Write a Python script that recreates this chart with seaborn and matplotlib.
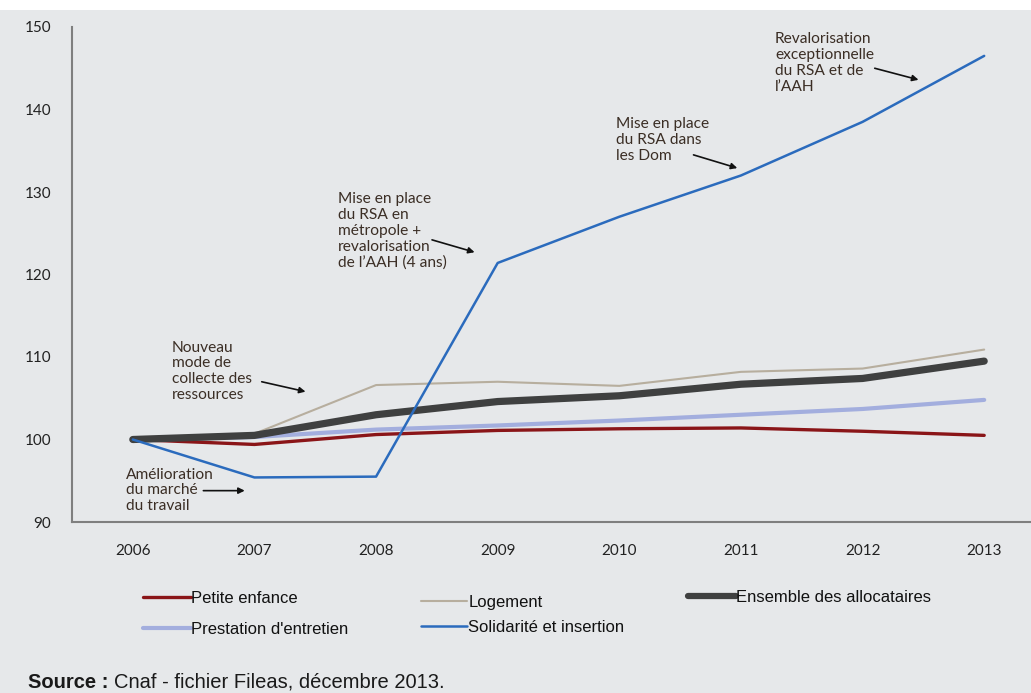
import matplotlib
matplotlib.use("Agg")
import matplotlib.pyplot as plt
import seaborn as sns
import pandas as pd
from matplotlib.lines import Line2D
from matplotlib.patches import Rectangle

years = [2006, 2007, 2008, 2009, 2010, 2011, 2012, 2013]
petite_enfance = [100, 99.4, 100.6, 101.1, 101.3, 101.4, 101.0, 100.5]
prestation_entretien = [100, 100.3, 101.2, 101.7, 102.3, 103.0, 103.7, 104.8]
logement = [100, 100.7, 106.6, 107.0, 106.5, 108.2, 108.6, 110.9]
ensemble = [100, 100.5, 103.0, 104.6, 105.3, 106.7, 107.4, 109.5]
solidarite = [100, 95.4, 95.5, 121.4, 127.0, 132.0, 138.5, 146.5]

series_names = ["Prestation d'entretien", "Petite enfance", "Logement",
                "Ensemble des allocataires", "Solidarité et insertion"]
series_values = [prestation_entretien, petite_enfance, logement, ensemble, solidarite]
colors = {"Petite enfance": "#8a1518", "Prestation d'entretien": "#a3aede",
          "Logement": "#b7ae9e", "Ensemble des allocataires": "#3f4040",
          "Solidarité et insertion": "#2b6bbd"}
widths = {"Petite enfance": 2.4, "Prestation d'entretien": 3.0, "Logement": 1.5,
          "Ensemble des allocataires": 5.2, "Solidarité et insertion": 1.8}

yticks = [90, 100, 110, 120, 130, 140, 150]

bg = "#e6e8ea"
sns.set_theme(style="white")
plt.rcParams['font.family'] = ['Lato', 'DejaVu Sans']

fig = plt.figure(figsize=(10.31, 6.93), dpi=100, facecolor=bg)
W, H = 1031, 693
ax = fig.add_axes([72 / W, 1 - 522 / H, (1045 - 72) / W, (522 - 27) / H])
ax.set_facecolor(bg)

for name, vals in zip(series_names, series_values):
    df = pd.DataFrame({"year": years, "value": vals})
    sns.lineplot(data=df, x="year", y="value", ax=ax, color=colors[name],
                 linewidth=widths[name], solid_capstyle="round", legend=False)

ax.set_xlim(2005.5, 2013.5)
ax.set_ylim(90, 150)
ax.set_xticks(years)
ax.set_xticklabels([str(y) for y in years])
ax.set_yticks(yticks)
ax.set_xlabel("")
ax.set_ylabel("")
ax.tick_params(axis="both", length=0, labelsize=11, colors="#222222")
ax.tick_params(axis="x", pad=16)
ax.tick_params(axis="y", pad=15)
for s in ["top", "right"]:
    ax.spines[s].set_visible(False)
for s in ["left", "bottom"]:
    ax.spines[s].set_color("#7f7f7f")
    ax.spines[s].set_linewidth(1.5)

txtcol = "#3b2e25"
ann = [
    ("Nouveau\nmode de\ncollecte des\nressources", (2006.32, 112.0), (2007.06, 107.0), (2007.42, 105.8)),
    ("Amélioration\ndu marché\ndu travail", (2005.94, 96.6), (2006.58, 93.8), (2006.92, 93.8)),
    ("Mise en place\ndu RSA en\nmétropole +\nrevalorisation\nde l\u2019AAH (4 ans)", (2007.69, 130.0), (2008.46, 124.2), (2008.81, 122.7)),
    ("Mise en place\ndu RSA dans\nles Dom", (2009.97, 139.1), (2010.61, 134.5), (2010.97, 132.9)),
    ("Revalorisation\nexceptionnelle\ndu RSA et de\nl\u2019AAH", (2011.28, 149.4), (2012.10, 145.0), (2012.46, 143.6)),
]
for text, tpos, a0, a1 in ann:
    ax.text(tpos[0], tpos[1], text, ha="left", va="top", fontsize=11.2,
            color=txtcol, linespacing=1.17)
    ax.annotate("", xy=a1, xytext=a0,
                arrowprops=dict(arrowstyle="-|>", color="#111111", lw=1.2,
                                mutation_scale=9, shrinkA=0, shrinkB=0))

leg_font = {"family": "Liberation Sans", "size": 12}

def mk(name):
    return Line2D([0], [0], color=colors[name], linewidth=widths[name] if widths[name] < 4 else 4.5,
                  solid_capstyle="round")

l1 = fig.legend([mk("Petite enfance"), mk("Prestation d'entretien")],
                ["Petite enfance", "Prestation d'entretien"],
                loc="center left", bbox_to_anchor=(143 / W, 1 - 614 / H),
                frameon=False, prop=leg_font, handlelength=2.85, handletextpad=0.05,
                borderpad=0, labelspacing=0.95, borderaxespad=0)
l2 = fig.legend([mk("Logement"), mk("Solidarité et insertion")],
                ["Logement", "Solidarité et insertion"],
                loc="center left", bbox_to_anchor=(421 / W, 1 - 614.5 / H),
                frameon=False, prop=leg_font, handlelength=2.75, handletextpad=0.1,
                borderpad=0, labelspacing=0.6, borderaxespad=0)
l3 = fig.legend([mk("Ensemble des allocataires")], ["Ensemble des allocataires"],
                loc="center left", bbox_to_anchor=(688 / W, 1 - 597 / H),
                frameon=False, prop=leg_font, handlelength=2.85, handletextpad=0.05,
                borderpad=0, borderaxespad=0)
for lg in (l1, l2, l3):
    for t in lg.get_texts():
        t.set_color("#111111")

fig.text(28 / W, 1 - 682 / H, "Source :", fontsize=14.5, fontweight="bold",
         family="Liberation Sans", color="#1a1a1a", va="center", ha="left")
fig.text(114 / W, 1 - 682 / H, "Cnaf - fichier Fileas, décembre 2013.", fontsize=14.5,
         family="Liberation Sans", color="#1a1a1a", va="center", ha="left")

fig.patches.append(Rectangle((0, 1 - 10 / H), 1, 10 / H, transform=fig.transFigure,
                             facecolor="white", edgecolor="none", zorder=5))

fig.savefig("out.png", dpi=100, facecolor=bg)
